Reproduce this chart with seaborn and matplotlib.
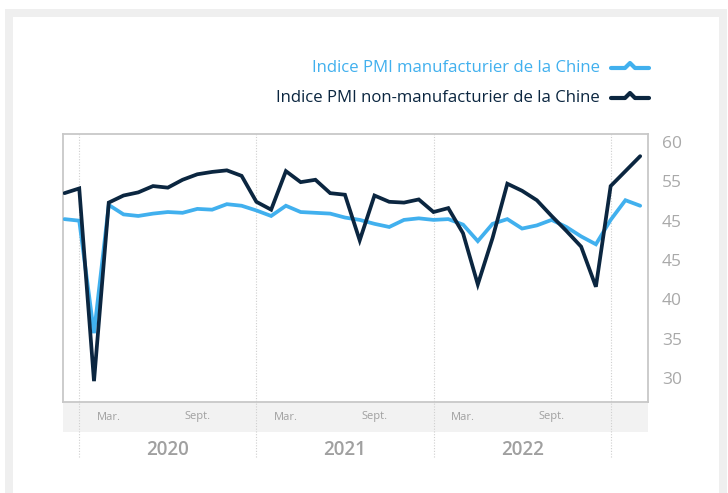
import matplotlib
matplotlib.use("Agg")
import matplotlib.pyplot as plt
from matplotlib.patches import Rectangle
from matplotlib.lines import Line2D
import seaborn as sns
import pandas as pd

# Monthly data, Dec 2019 .. Mar 2023
months = ["2019-12", "2020-01", "2020-02", "2020-03", "2020-04", "2020-05", "2020-06",
          "2020-07", "2020-08", "2020-09", "2020-10", "2020-11", "2020-12",
          "2021-01", "2021-02", "2021-03", "2021-04", "2021-05", "2021-06",
          "2021-07", "2021-08", "2021-09", "2021-10", "2021-11", "2021-12",
          "2022-01", "2022-02", "2022-03", "2022-04", "2022-05", "2022-06",
          "2022-07", "2022-08", "2022-09", "2022-10", "2022-11", "2022-12",
          "2023-01", "2023-02", "2023-03"]
manuf = [50.2, 50.0, 35.7, 52.0, 50.8, 50.6, 50.9, 51.1, 51.0, 51.5, 51.4, 52.1, 51.9,
         51.3, 50.6, 51.9, 51.1, 51.0, 50.9, 50.4, 50.1, 49.6, 49.2, 50.1, 50.3,
         50.1, 50.2, 49.5, 47.4, 49.6, 50.2, 49.0, 49.4, 50.1, 49.2, 48.0, 47.0,
         50.1, 52.6, 51.9]
nonmanuf = [53.5, 54.1, 29.6, 52.3, 53.2, 53.6, 54.4, 54.2, 55.2, 55.9, 56.2, 56.4, 55.7,
            52.4, 51.4, 56.3, 54.9, 55.2, 53.5, 53.3, 47.5, 53.2, 52.4, 52.3, 52.7,
            51.1, 51.6, 48.4, 41.9, 47.8, 54.7, 53.8, 52.6, 50.6, 48.7, 46.7, 41.6,
            54.4, 56.3, 58.2]
series_names = ["Indice PMI manufacturier de la Chine",
                "Indice PMI non-manufacturier de la Chine"]
ytick_values = [30, 35, 40, 45, 50, 55, 60]
ytick_labels = ["30", "35", "40", "45", "45", "55", "60"]
month_tick_labels = ["Mar.", "Sept."]
years = ["2020", "2021", "2022"]

LIGHT = "#41b0ee"
DARK = "#0b2640"
GRAY_TXT = "#a9a9a9"

sns.set_style("white")
plt.rcParams['font.family'] = ['Open Sans', 'DejaVu Sans']

idx = list(range(len(months)))
df = pd.DataFrame({
    "t": idx * 2,
    "v": manuf + nonmanuf,
    "s": [series_names[0]] * len(idx) + [series_names[1]] * len(idx),
})

W, H = 728, 493
fig = plt.figure(figsize=(W / 100, H / 100), dpi=100)
fig.patch.set_facecolor("white")

# outer gray frame
fig.patches.append(Rectangle((5 / W, 0), (727 - 5) / W, 1 - 9 / H, transform=fig.transFigure,
                             facecolor="#efefef", edgecolor="none", zorder=-3))
fig.patches.append(Rectangle((13 / W, 0), (719 - 13) / W, 1 - 17 / H, transform=fig.transFigure,
                             facecolor="white", edgecolor="none", zorder=-2))

L, R, T, B = 63, 648, 134, 402
ax = fig.add_axes([L / W, 1 - B / H, (R - L) / W, (B - T) / H])
ax.set_facecolor("white")

sns.lineplot(data=df, x="t", y="v", hue="s", palette=[LIGHT, DARK], linewidth=2.7,
             legend=False, ax=ax, zorder=3)
for ln in ax.get_lines():
    ln.set_solid_joinstyle("miter")

ax.set_xlim(-0.1, 39.53)
ax.set_ylim(26.95, 61.02)
ax.set_xlabel("")
ax.set_ylabel("")

for sp in ax.spines.values():
    sp.set_color("#c8c8c8")
    sp.set_linewidth(1.3)

ax.yaxis.tick_right()
ax.set_yticks(ytick_values)
ax.set_yticklabels(ytick_labels)
ax.tick_params(axis="y", length=0, pad=10, labelsize=12.5, labelcolor=GRAY_TXT)
ax.set_xticks([])

# gray band below the plot for month labels
band_h = 30 / (B - T)
ax.add_patch(Rectangle((0, -band_h), 1, band_h, transform=ax.transAxes,
                       facecolor="#f2f2f2", edgecolor="none", clip_on=False, zorder=0))

# dotted year separators (Jan of each year)
year_starts = [1, 13, 25, 37]
ax.vlines(year_starts, -(457 - B) / (B - T), 1, transform=ax.get_xaxis_transform(),
          colors="#cfcfcf", linestyles=(0, (1, 1.5)), linewidth=0.8, clip_on=False, zorder=1)

# month labels and year labels
tr = ax.get_xaxis_transform()
for k, yr in enumerate(years):
    start = year_starts[k]
    ax.text(start + 2, -(417 - B) / (B - T), month_tick_labels[0], transform=tr,
            ha="center", va="center", fontsize=8, color="#a0a0a0")
    ax.text(start + 8, -(417 - B) / (B - T), month_tick_labels[1], transform=tr,
            ha="center", va="center", fontsize=8, color="#a0a0a0")
    ax.text(start + 6, -(450 - B) / (B - T), yr, transform=tr,
            ha="center", va="center", fontsize=13.5, fontweight="semibold", color="#a0a0a0")

# legend
for yy, name, col in [(68, series_names[0], LIGHT), (98, series_names[1], DARK)]:
    fig.text(600 / W, 1 - yy / H, name, ha="right", va="center", fontsize=12.1,
             color=col)
    xs = [611, 625, 630, 635, 649]
    ys = [yy, yy, yy - 5, yy, yy]
    fig.lines.append(Line2D([x / W for x in xs], [1 - y / H for y in ys],
                            transform=fig.transFigure, color=col, linewidth=3,
                            solid_capstyle="round", solid_joinstyle="round"))

fig.savefig("out.png", dpi=100, facecolor="white")
